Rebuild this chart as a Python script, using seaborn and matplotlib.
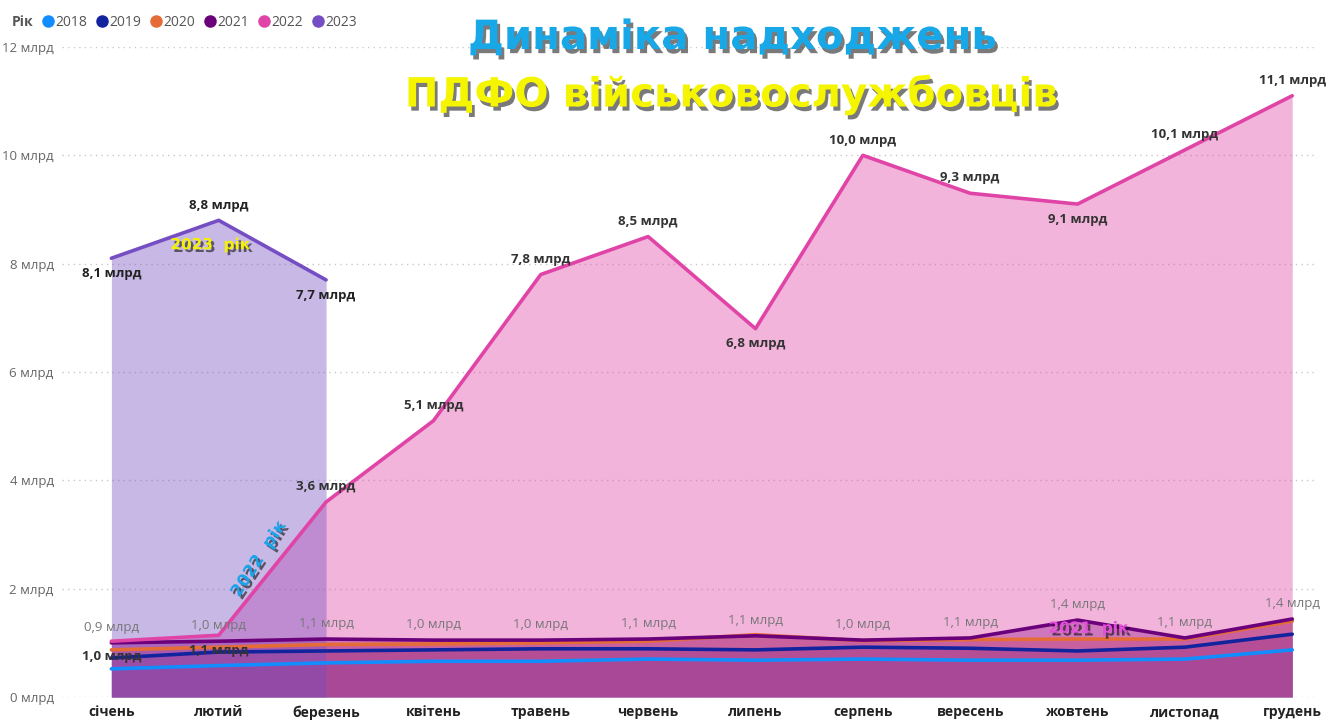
import numpy as np
import pandas as pd
import matplotlib
matplotlib.use("Agg")
import matplotlib.pyplot as plt
import matplotlib.patheffects as pe
from matplotlib.lines import Line2D
import seaborn as sns

months = ["січень", "лютий", "березень", "квітень", "травень", "червень",
          "липень", "серпень", "вересень", "жовтень", "листопад", "грудень"]

# values in млрд
y2018 = [0.52, 0.58, 0.63, 0.66, 0.66, 0.70, 0.68, 0.70, 0.68, 0.68, 0.70, 0.87]
y2019 = [0.72, 0.83, 0.85, 0.87, 0.89, 0.89, 0.87, 0.92, 0.90, 0.85, 0.92, 1.16]
y2020 = [0.87, 0.92, 0.97, 0.98, 1.00, 1.03, 1.15, 1.04, 1.06, 1.07, 1.07, 1.40]
y2021 = [1.00, 1.03, 1.07, 1.05, 1.05, 1.07, 1.13, 1.05, 1.09, 1.42, 1.09, 1.44]
y2022 = [1.03, 1.14, 3.6, 5.1, 7.8, 8.5, 6.8, 10.0, 9.3, 9.1, 10.1, 11.1]
y2023 = [8.1, 8.8, 7.7]

labels2021 = ["0,9", "1,0", "1,1", "1,0", "1,0", "1,1", "1,1", "1,0", "1,1", "1,4", "1,1", "1,4"]
labels2022 = ["1,0", "1,1", "3,6", "5,1", "7,8", "8,5", "6,8", "10,0", "9,3", "9,1", "10,1", "11,1"]
labels2023 = ["8,1", "8,8", "7,7"]
# +1 above the line, -1 below
side2022 = [-1, -1, 1, 1, 1, 1, -1, 1, 1, -1, 1, 1]
side2023 = [-1, 1, -1]

years = ["2018", "2019", "2020", "2021", "2022", "2023"]
colors = ["#118DFF", "#12239E", "#E66C37", "#6B007B", "#E044A7", "#744EC2"]
series = [y2018, y2019, y2020, y2021, y2022, y2023]

rows = []
for yr, vals in zip(years, series):
    for i, v in enumerate(vals):
        rows.append({"Рік": yr, "month": i, "value": v})
df = pd.DataFrame(rows)

sns.set_theme(style="white")
plt.rcParams["font.family"] = ["Open Sans", "DejaVu Sans"]

fig = plt.figure(figsize=(13.28, 7.26), dpi=100)
ax = fig.add_axes([62 / 1328, 1 - 697 / 726, (1318 - 62) / 1328, 650 / 726])

for yr, c in zip(years, colors):
    d = df[df["Рік"] == yr]
    ax.fill_between(d["month"], 0, d["value"], color=c, alpha=0.4, lw=0, zorder=1)

sns.lineplot(data=df, x="month", y="value", hue="Рік", hue_order=years,
             palette=colors, linewidth=2.6, legend=False, ax=ax, zorder=3)

ax.set_xlim(-0.46, 11.24)
ax.set_ylim(0, 12)
ax.set_yticks(range(0, 13, 2))
ax.set_yticklabels([f"{t} млрд" for t in range(0, 13, 2)], color="#666666", fontsize=9.5)
ax.set_xticks(range(12))
ax.set_xticklabels(months, fontsize=10, fontweight="bold", color="#222222")
ax.tick_params(axis="both", length=0, pad=6)
ax.set_xlabel("")
ax.set_ylabel("")
for s in ax.spines.values():
    s.set_visible(False)
ax.grid(axis="y", color="#c8c8c8", linestyle=(0, (1, 3)), linewidth=1, zorder=0)
ax.set_axisbelow(True)

# data labels
for i, (v, t) in enumerate(zip(y2021, labels2021)):
    ax.annotate(f"{t} млрд", (i, v), xytext=(0, 11), textcoords="offset points",
                ha="center", va="center", fontsize=9.5, color="#777777", zorder=5)
for i, (v, t, s) in enumerate(zip(y2022, labels2022, side2022)):
    ax.annotate(f"{t} млрд", (i, v), xytext=(0, 11 * s), textcoords="offset points",
                ha="center", va="center", fontsize=9.5, fontweight="bold",
                color="#333333", zorder=5)
for i, (v, t, s) in enumerate(zip(y2023, labels2023, side2023)):
    ax.annotate(f"{t} млрд", (i, v), xytext=(0, 11 * s), textcoords="offset points",
                ha="center", va="center", fontsize=9.5, fontweight="bold",
                color="#222222", zorder=5)

shadow = [pe.SimplePatchShadow(offset=(2, -2), shadow_rgbFace="black", alpha=0.55), pe.Normal()]
ax.text(0.92, 8.35, "2023  рік", fontsize=11, fontweight="bold", color="#F5F200",
        ha="center", va="center", family="DejaVu Sans", path_effects=shadow, zorder=6)
ax.text(1.37, 2.55, "2022  рік", fontsize=12, fontweight="bold", color="#1AA3E8",
        rotation=57, ha="center", va="center", family="DejaVu Sans", path_effects=shadow, zorder=6)
ax.text(9.1, 1.27, "2021  рік", fontsize=11, fontweight="bold", color="#E34FD8",
        ha="center", va="center", family="DejaVu Sans", path_effects=shadow, zorder=6)

# title
tshadow = [pe.SimplePatchShadow(offset=(2, -3), shadow_rgbFace="#222222", alpha=0.6), pe.Normal()]
fig.text(732 / 1328, 1 - 38 / 726, "Динаміка надходжень", fontsize=29, fontweight="bold",
         color="#18A8E8", ha="center", va="center", family="DejaVu Sans", path_effects=tshadow)
fig.text(731 / 1328, 1 - 95 / 726, "ПДФО військовослужбовців", fontsize=29, fontweight="bold",
         color="#F5F500", ha="center", va="center", family="DejaVu Sans", path_effects=tshadow)

# legend
fig.text(12 / 1328, 1 - 22 / 726, "Рік", fontsize=10, fontweight="bold", color="#555555",
         ha="left", va="center")
handles = [Line2D([], [], marker="o", linestyle="", markersize=8, color=c) for c in colors]
fig.legend(handles, years, loc="center left", bbox_to_anchor=(33 / 1328, 1 - 22 / 726),
           ncol=6, frameon=False, fontsize=10, handletextpad=-0.1, columnspacing=0.5,
           labelcolor="#555555", borderpad=0, handlelength=1.2)

fig.savefig("out.png", dpi=100)
